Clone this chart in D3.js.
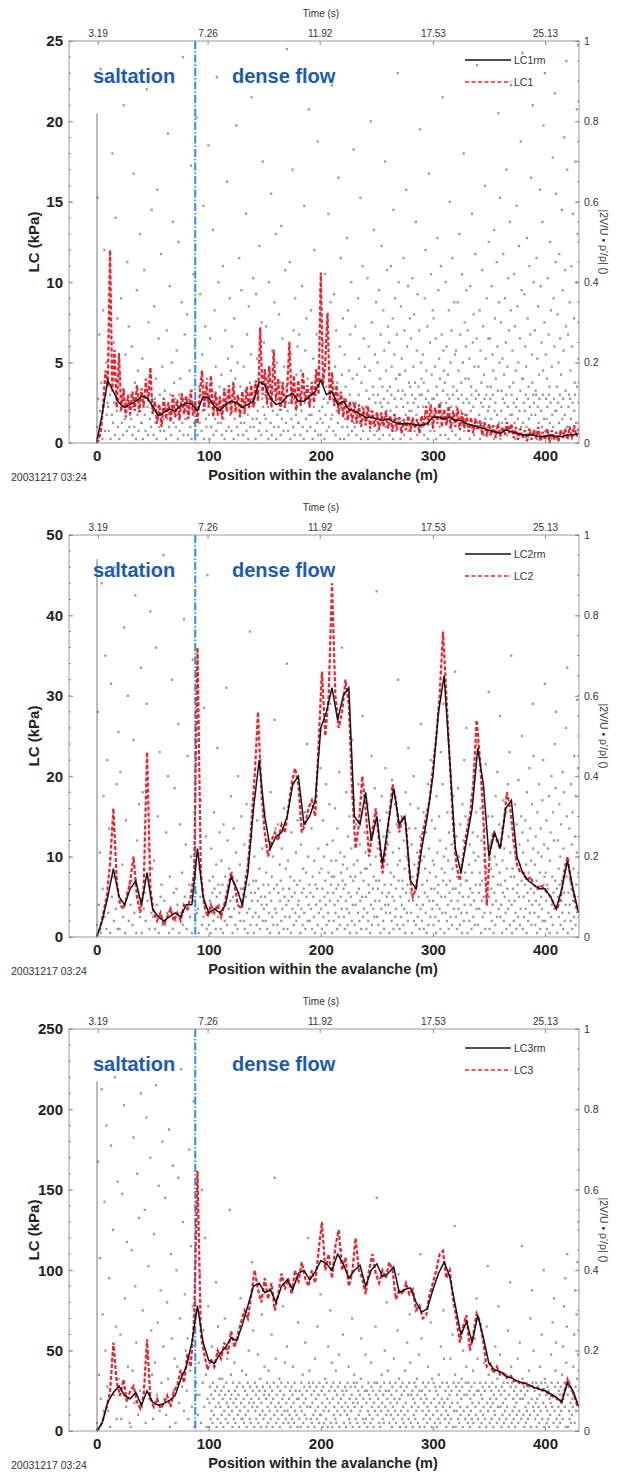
<!DOCTYPE html>
<html><head><meta charset="utf-8">
<script src="https://cdn.jsdelivr.net/npm/d3@7"></script>
<style>body{margin:0;background:#fff;} svg{display:block;font-family:"Liberation Sans",Arial,sans-serif;}</style>
</head><body><svg id="c" width="617" height="1474"></svg>
<script>
// ---------- data ----------
const xTickValues = [0, 100, 200, 300, 400];
const timeTickLabels = ["3.19", "7.26", "11.92", "17.53", "25.13"];
const timeTickPositions = [1, 99, 199, 300, 400];
const rightTicks = [0, 0.2, 0.4, 0.6, 0.8, 1];
const panelSeries = ["LC1", "LC2", "LC3"];
const yMaxes = [25, 50, 250];
const yTicks1 = [0, 5, 10, 15, 20, 25];
const yTicks2 = [0, 10, 20, 30, 40, 50];
const yTicks3 = [0, 50, 100, 150, 200, 250];
const transitionPos = 88;
const startLineTop = [0.82, 0.94, 0.87];
const redSteps = [2, 3, 3], blackStep = 5, scatterBin = 10;

const lc1 = [0,0.2,0.8,2.5,4.5,3.5,
12,3.2,5.8,2.2,5.6,2.0,3.4,1.6,3.0,1.8,
3.2,2.0,3.6,1.9,3.4,2.2,4.0,2.6,4.7,1.8,
2.6,1.2,2.4,1.0,2.8,1.5,2.5,1.3,3.0,1.6,
2.7,1.4,3.1,1.8,2.9,1.5,3.3,1.7,2.6,1.2,
3.0,4.5,2.0,3.8,2.2,4.2,1.6,3.2,1.7,2.9,
1.5,3.4,2.0,3.6,1.8,3.8,1.9,3.0,1.6,3.2,
1.8,3.5,2.1,3.6,2.2,3.9,2.6,7.2,3.0,4.6,
2.4,4.8,2.2,5.8,2.6,4.0,2.0,3.8,2.2,3.4,
6.3,2.4,4.2,2.0,3.9,2.3,4.4,2.6,3.6,2.2,
3.8,2.5,4.6,3.0,10.6,3.6,5.0,8.1,2.6,4.4,
2.3,3.6,1.8,3.2,1.6,2.8,1.4,2.6,1.3,2.5,
1.2,2.4,1.0,2.2,1.1,2.3,0.9,2.0,1.0,1.9,
0.8,1.9,1.0,2.0,0.9,1.7,0.7,1.8,0.8,1.6,
0.6,1.5,0.8,1.7,0.7,1.6,0.9,1.5,0.6,1.7,
1.0,2.3,1.1,2.4,0.9,2.2,1.2,2.5,1.0,2.1,
1.1,2.3,0.9,2.0,1.0,2.2,0.8,1.9,0.9,1.8,
0.7,1.6,0.6,1.5,0.8,1.4,0.5,1.3,0.4,1.2,
0.5,1.1,0.3,1.2,0.4,1.0,0.5,1.3,0.6,1.2,
0.3,1.0,0.2,0.9,0.3,0.8,0.1,0.9,0.2,0.8,
0.3,1.0,0.1,0.7,0.2,0.9,0.0,0.8,0.2,0.7,
0.1,0.8,0.3,0.9,0.2,1.0,0.3,1.1,0.4,0.9];
const lc1rm = [0,1.8,3.9,3.2,2.5,2.2,2.4,2.6,2.9,2.8,2.3,1.7,1.9,2.1,2.0,2.3,2.5,2.4,2.0,2.9,2.8,2.3,2.0,2.4,2.6,2.5,2.2,2.4,2.6,3.8,3.6,2.8,2.4,2.5,2.9,3.1,2.6,2.6,2.9,3.2,3.9,3.0,3.2,2.4,2.6,2.1,2.0,1.8,1.6,1.6,1.5,1.4,1.5,1.3,1.2,1.2,1.2,1.1,1.1,1.2,1.6,1.6,1.5,1.6,1.4,1.4,1.2,1.1,1.0,0.9,0.8,0.7,0.6,0.8,0.7,0.6,0.5,0.5,0.5,0.4,0.4,0.5,0.4,0.4,0.5,0.5,0.6];

const lc2 = [0,1,3,5,9,16,7,4,3.5,5,7,10,5,3,6,23,6,3,2,3,1.5,2.5,3.5,2,3,2,4,3.5,5,8,36,8,4,2.5,4,3,4,2.5,4,6,8,6.5,4,3.5,6,9,14,20,28,18,13,10,12,13,12,14,13,16,19,21,19,13,14,16,17,15,24,33,25,30,44,30,26,28,32,29,18,11,14,20,16,10,13,16,12,8,11,15,19,17,13,15,14,8,5,6,10,13,15,17,21,25,30,38,30,22,14,9,7,10,13,15,19,27,22,15,4,11,13,12,11,14,18,16,12,9,8,8,7,7.5,6.5,6,6.5,6,5.5,5,4,3.5,5,8,10,7,5,3];
const lc2rm = [0,2,5,8.5,5,4,6,7,4,8,3.5,2.5,2,2.5,3,2.5,4,4,11,5,3,3.5,3,4,7.5,6,4,8,16,22,15,11,12.5,13,15,19,20,14,15,17,26,28,31,27,30,31,15,14,18,12,15,9,14,18.5,14,15,7,6,11,15,20,28,32.5,22,11,8,12,16,23.5,19,10,13,11,16,17,10,8,7,6.5,6,6,5,3.5,6,9.5,6,3];

const lc3 = [0,2,8,15,24,55,30,22,32,18,25,28,18,14,22,57,20,15,20,14,17,22,15,25,28,38,30,48,40,70,162,60,48,38,45,40,50,45,55,48,62,52,60,68,75,70,85,100,88,80,95,82,92,75,85,98,88,95,85,100,92,105,95,90,100,92,112,130,100,110,95,115,125,100,108,90,98,120,100,95,85,100,110,98,92,100,95,105,100,82,88,85,92,85,88,75,78,70,72,85,92,100,110,112,95,100,82,70,55,65,72,50,60,73,68,55,40,42,36,40,35,36,33,35,31,32,29,30,28,29,27,27,25,26,24,22,21,20,18,24,32,27,22,15];
const lc3rm = [0,5,18,24,28,22,20,24,16,25,18,16,17,19,22,32,40,55,78,55,44,42,48,52,58,56,66,78,90,92,86,88,80,90,94,88,98,100,94,99,106,104,100,110,104,95,100,103,90,100,104,96,98,102,86,88,89,80,74,76,88,98,105,96,78,60,68,55,72,58,42,38,37,34,33,31,30,29,27,26,25,23,21,18,30,25,15];

// |2V/U * rho'/rho| samples in hundredths, one string per 10 m of position
const scatter1 = [
"04 61 11 02 27 08 93 15 06 01 33 09 48 03 12 20 07 10","09 03 40 12 01 19 07 72 05 25 10 02 56 14 08 31 04 11",
"01 17 08 36 05 11 02 84 13 06 22 10 03 45 09 29 04 07","12 06 24 02 09 67 04 15 11 01 38 07 18 03 10 52 08 05",
"05 21 01 10 43 07 03 14 88 09 02 30 12 06 17 04 58 11","08 02 34 11 05 16 01 63 09 26 04 12 03 47 07 19 10 06",
"03 13 09 01 28 06 77 10 04 39 12 02 20 08 55 05 15 11","10 04 23 07 01 50 12 03 16 09 35 05 96 02 11 27 06 08",
"06 32 02 11 08 18 04 69 01 13 10 42 05 24 03 09 81 07","02 09 14 05 37 12 03 22 08 59 01 10 29 06 04 16 11 74",
"07 01 26 10 04 15 12 53 02 08 33 06 19 03 91 11 05 40 09 14","11 05 17 02 09 44 06 13 01 28 10 03 65 08 21 04 12 36 07 18",
"03 24 08 12 01 31 06 16 10 79 04 20 02 11 46 07 14 05 38 09","09 02 19 05 13 11 57 03 27 07 01 34 12 15 04 22 86 10 06 41",
"04 14 10 01 37 06 21 08 12 03 49 05 17 02 30 11 70 09 25 07","12 06 29 03 16 09 01 40 11 18 05 62 02 23 08 13 04 35 10 52",
"01 20 07 11 04 32 10 15 02 54 06 26 12 03 19 09 43 05 14 98","08 03 15 10 45 01 22 06 13 68 04 28 11 02 36 07 17 09 24 05",
"05 27 12 02 18 08 39 04 14 01 59 10 23 06 31 03 16 11 83 07","10 04 33 07 13 01 21 09 48 03 16 12 27 05 75 02 19 08 38 06",
"02 16 09 05 25 11 01 42 07 14 03 30 10 57 04 20 12 35 06 89","07 11 03 37 10 19 02 28 08 15 05 66 12 24 01 46 09 17 04 31",
"11 01 22 06 14 09 51 04 33 02 18 12 27 07 40 03 16 10 73 05","04 29 10 02 17 07 36 12 21 05 61 01 15 09 44 03 26 08 19 06",
"09 13 06 41 01 24 11 18 03 80 08 30 05 14 12 53 02 22 10 35 07","03 20 12 07 38 01 16 10 27 05 49 09 14 02 33 11 23 06 70 04 18 08 43 13 29",
"10 05 25 02 14 08 44 12 19 04 31 01 58 07 22 11 36 03 16 09 27 06 92 13 40 17","06 17 01 34 11 21 04 13 09 46 02 28 12 18 07 63 05 24 10 39 03 15 08 31 14",
"01 26 08 12 41 05 19 10 32 03 15 11 55 07 23 02 37 09 14 04 28 12 78 06 20 16","12 04 22 09 15 02 36 07 48 11 18 05 29 01 13 10 67 06 25 03 42 08 17 11 33",
"05 31 11 03 19 08 26 01 14 12 51 06 38 09 21 04 16 02 44 10 27 07 86 13 23 18","08 15 02 40 10 24 05 12 17 01 33 11 60 04 20 09 28 03 46 12 14 06 35 07 22",
"02 23 09 13 06 35 11 18 04 52 01 27 08 15 12 42 05 20 10 72 03 30 07 16 24 38","11 06 28 03 16 10 21 01 39 08 14 12 57 04 25 09 32 02 19 06 47 11 13 26 94 05",
"04 19 12 07 33 01 23 10 15 05 43 09 29 02 17 11 64 06 21 12 36 03 14 08 26 50","09 02 26 11 14 06 39 04 22 12 18 01 53 08 31 10 16 03 45 07 24 13 82 05 35 20 61",
"01 30 08 13 05 21 11 47 03 17 10 36 06 25 12 68 02 19 09 41 04 28 14 55 07 33 89","12 07 23 03 15 10 42 05 29 01 18 09 59 11 34 06 20 02 49 08 26 13 75 04 38 16 97",
"05 16 10 02 37 08 24 12 19 04 51 01 31 11 14 06 44 09 27 03 66 07 22 15 84 12 40","10 03 28 07 13 12 46 01 21 09 34 05 17 11 63 02 39 08 25 04 55 12 18 79 06 30 92",
"03 22 11 06 16 09 41 02 27 12 14 05 50 10 33 01 19 07 71 04 36 11 24 87 08 45 62","08 14 01 32 10 20 05 47 12 26 03 17 09 58 06 38 11 23 02 76 07 43 13 29 95 04 68",
"02 27 09 12 04 35 11 18 06 44 01 24 10 57 03 31 08 15 12 70 05 40 83 14 52 99 21"];
const scatter2 = [
"03 56 08 21 01 88 12 35 05 70 02 44","06 27 01 63 10 15 04 92 07 38 02 51","02 41 09 18 05 77 01 29 11 60 04 13",
"08 14 03 49 06 85 01 24 10 33 05 67","01 36 07 11 04 58 09 22 02 81 06 17","05 19 02 72 08 30 01 46 10 13 03 95",
"09 03 26 06 40 01 15 07 64 02 11 37","04 12 08 53 01 28 06 16 03 79 10 23","02 45 07 13 05 20 01 69 09 31 04 11 06",
"07 01 17 10 34 03 12 05 57 08 25 02 90 06","03 14 09 01 22 06 11 15 04 31 12 07 02 18 10 47 05 13 08 26",
"11 02 19 06 13 01 28 08 04 15 10 62 03 24 12 07 17 05 09 35","05 16 01 10 27 07 13 03 21 09 14 02 40 11 06 18 04 12 30 08",
"08 12 04 23 02 15 10 33 06 01 19 13 07 76 03 11 25 09 05 14","01 20 11 06 14 03 29 09 12 05 17 02 44 10 08 22 04 13 07 31",
"10 04 16 08 02 24 13 06 11 01 36 09 15 05 20 03 12 54 07 27","06 13 03 28 11 01 18 09 14 04 22 07 12 02 32 10 05 17 08 68",
"02 19 09 12 05 15 01 26 10 07 38 03 14 11 06 21 04 13 29 08","09 05 14 01 23 07 11 03 17 12 06 31 02 16 10 48 04 20 08 13",
"04 11 07 27 02 15 10 05 19 01 13 08 35 12 03 22 06 16 09 42","07 17 02 12 29 05 20 10 01 14 08 38 03 23 11 06 16 04 33 09 58 13 19 15",
"01 24 11 04 15 08 32 06 19 12 02 27 09 13 05 41 03 21 10 16 07 72 14 18","12 05 20 02 13 09 36 07 17 03 25 11 06 30 01 15 10 22 04 49 08 14 18 34",
"03 15 08 28 01 11 19 06 38 12 04 23 09 16 02 31 10 55 05 14 07 26 17 21","10 02 17 06 33 04 13 11 24 01 18 08 45 03 27 12 07 15 05 37 09 20 14 86",
"05 22 12 03 14 09 29 01 19 07 35 11 16 04 25 02 13 08 42 06 31 10 18 23","08 11 01 26 06 16 13 04 39 10 21 02 15 09 33 05 12 07 28 03 18 64 14 22",
"02 19 10 05 30 08 14 12 03 24 07 17 01 36 11 20 06 13 04 47 09 27 16 33","11 06 23 01 15 09 40 04 18 12 27 03 13 08 21 05 32 10 16 02 25 07 53 19",
"04 13 08 31 02 20 11 17 06 26 01 14 10 38 03 22 09 16 05 44 12 29 07 19","09 03 18 12 27 05 15 01 35 08 21 11 13 04 30 07 24 02 46 10 17 06 38 14 58 20",
"01 16 10 06 22 13 04 31 08 19 02 26 11 14 05 40 09 23 03 17 12 35 07 28 21 66","12 05 25 02 15 09 37 07 20 11 03 28 13 06 18 01 33 10 24 04 44 08 16 30 14 52",
"06 14 01 29 10 18 04 23 12 08 34 02 16 11 26 05 21 09 39 03 19 13 31 07 48 25","03 20 11 07 16 13 32 01 24 09 14 05 37 10 19 06 27 02 43 12 17 08 22 15 30 61",
"10 02 23 06 17 12 04 30 08 15 01 26 11 20 03 35 09 18 05 41 13 24 07 28 16 55","05 13 08 27 01 19 11 34 04 22 10 14 06 31 02 17 12 38 07 25 09 46 03 21 15 70",
"08 01 17 12 24 04 15 09 33 06 20 02 28 11 13 05 39 10 23 03 18 07 30 14 50 26","02 21 10 05 15 13 29 07 18 01 36 11 24 04 16 09 42 06 27 12 19 03 33 08 58 22 45",
"11 06 18 03 25 09 14 01 31 12 21 05 38 08 16 02 27 10 20 07 34 04 44 13 23 15 63","04 16 09 29 02 13 12 22 06 35 01 19 10 26 05 40 08 15 03 31 11 24 07 48 14 37 56",
"07 12 01 24 10 17 05 33 13 20 03 28 09 14 06 41 02 22 11 36 04 18 08 52 15 30 67","01 19 11 06 27 08 14 04 38 12 23 02 31 09 17 05 45 10 25 03 35 13 21 59 07 42 16"];
const scatter3 = [
"02 67 14 43 08 85 29 05 57 20 76 11","05 38 01 71 18 50 09 88 26 03 62 13","09 24 03 59 12 81 33 06 47 16 92 02",
"01 45 15 73 07 36 22 64 04 53 10 84","06 30 11 55 02 78 19 41 08 68 25 14","03 49 17 86 09 27 61 05 35 12 72 21",
"08 58 04 32 13 75 01 44 23 66 10 18","02 40 16 63 07 28 90 11 52 05 34 20","10 23 03 70 15 46 06 31 82 01 56 12 09",
"04 17 09 39 02 60 12 25 06 48 14 01 08 31","01 07 11 03 09 05 21 02 12 08 04 16 10 06 37 01 11 03 26 07 09 13",
"06 02 10 04 13 08 01 11 05 28 09 03 12 07 18 02 06 10 04 55 08 14","09 05 01 12 07 03 17 10 02 08 06 11 23 04 09 01 12 05 33 07 03 15",
"03 11 08 02 06 10 04 14 01 09 12 05 20 07 03 11 02 08 42 06 10 25","07 01 12 05 09 03 11 06 19 02 08 10 04 13 01 07 29 05 11 03 09 16",
"10 04 08 01 12 06 02 15 09 05 11 03 07 24 10 01 08 12 04 63 06 18","02 09 05 11 03 07 13 01 10 06 12 04 08 31 02 09 05 17 11 03 07 21",
"05 12 02 08 04 10 01 06 11 03 09 16 07 02 12 05 10 38 04 08 01 27","08 03 10 06 01 12 05 09 14 02 07 11 04 22 08 03 10 06 01 48 12 15",
"11 06 03 09 02 07 12 04 10 01 18 05 08 11 03 26 06 09 02 12 04 34","04 10 07 01 11 05 02 09 13 06 03 12 08 01 21 05 10 07 30 02 11 17",
"01 08 12 04 06 10 03 15 02 09 05 11 07 19 01 12 04 08 45 06 10 24","09 02 05 11 07 01 10 04 12 06 16 03 08 02 11 05 09 28 01 07 12 14",
"06 11 03 08 12 02 07 10 04 01 09 05 13 23 06 11 03 08 36 02 10 19","03 07 10 01 05 12 09 04 08 02 17 11 06 03 10 01 07 12 05 26 09 58",
"12 04 08 06 02 10 01 11 05 14 07 03 09 02 12 20 06 10 04 32 08 15","05 10 02 12 07 04 09 01 11 06 03 18 08 05 12 02 10 07 25 04 39 13",
"08 01 11 05 09 03 12 06 02 10 04 15 07 01 11 22 05 09 03 12 29 17","02 09 06 10 01 08 04 12 07 03 11 05 13 09 02 06 19 10 01 44 08 23",
"10 05 12 03 07 01 09 11 04 08 02 06 16 12 05 10 03 27 07 01 13 35","04 12 08 02 11 06 10 01 05 09 03 14 07 11 02 21 04 08 12 06 30 18",
"07 03 10 05 01 12 08 04 11 02 09 06 18 03 10 07 24 01 12 05 51 14","01 11 05 09 07 03 12 02 10 06 04 08 13 11 01 20 05 09 28 03 12 16",
"09 06 02 12 04 10 01 08 05 11 03 07 15 02 09 12 23 06 04 33 10 18","03 10 07 01 12 05 09 02 08 11 04 06 17 10 03 12 01 26 07 41 05 14",
"11 02 08 06 10 03 12 07 01 09 05 04 21 11 08 02 13 06 31 10 03 19","06 09 01 11 04 07 12 02 10 05 08 03 14 06 12 25 01 09 04 37 11 16",
"02 12 05 08 03 10 06 01 11 07 04 09 18 02 12 05 22 08 10 03 46 13","08 04 11 01 09 06 02 12 05 10 03 07 15 11 04 28 01 08 35 12 06 20",
"05 10 03 07 12 01 08 04 11 06 02 09 16 05 12 24 03 10 07 40 01 13","12 06 09 02 05 11 03 10 01 08 04 07 19 12 06 27 09 02 33 05 11 15 22",
"03 08 01 12 06 10 04 09 02 11 05 07 14 03 21 08 31 12 06 38 01 17 26 44","09 01 11 05 03 12 07 02 10 04 08 06 16 09 24 02 35 11 05 29 13 42 19 52"];

const redSeries = [lc1, lc2, lc3];
const blackSeries = [lc1rm, lc2rm, lc3rm];
const scatterSeries = [scatter1, scatter2, scatter3];
const yTickSets = [yTicks1, yTicks2, yTicks3];

// ---------- layout ----------
const svg = d3.select("#c");
const panelTop = [41, 535, 1029], plotH = 402;
const X0 = 69, X1 = 579;
const x = d3.scaleLinear().domain([-24.6, 430.3]).range([X0, X1]);
const FONT = '"Liberation Sans", Arial, sans-serif';

panelTop.forEach((top, i) => {
  const bottom = top + plotH;
  const y = d3.scaleLinear().domain([0, yMaxes[i]]).range([bottom, top]);
  const yR = d3.scaleLinear().domain([0, 1]).range([bottom, top]);
  const g = svg.append("g");
  const clipId = "clip" + i;
  svg.append("defs").append("clipPath").attr("id", clipId)
    .append("rect").attr("x", X0).attr("y", top).attr("width", X1 - X0).attr("height", plotH + 1);
  const plot = g.append("g").attr("clip-path", `url(#${clipId})`);

  // scatter samples
  const pts = [];
  scatterSeries[i].forEach((s, b) => {
    const vals = s.split(" ");
    vals.forEach((v, j) => pts.push({p: b * scatterBin + (j + 0.5) * scatterBin / vals.length, v: +v / 100}));
  });
  plot.append("g").selectAll("rect").data(pts).join("rect")
    .attr("x", d => x(d.p) - 1.1).attr("y", d => yR(d.v) - 1.2)
    .attr("width", 2.2).attr("height", 2.4).attr("fill", "#9a9a9a");

  // start line
  plot.append("line").attr("x1", x(0.4)).attr("x2", x(0.4))
    .attr("y1", yR(startLineTop[i])).attr("y2", bottom)
    .attr("stroke", "#666").attr("stroke-width", 0.9);

  // transition line
  plot.append("line").attr("x1", x(transitionPos)).attr("x2", x(transitionPos))
    .attr("y1", top).attr("y2", bottom)
    .attr("stroke", "#2f8fe6").attr("stroke-width", 2).attr("stroke-dasharray", "8,2,1.5,2");

  // red raw line
  const red = redSeries[i].map((v, k) => ({p: k * redSteps[i], v}));
  plot.append("path").datum(red)
    .attr("d", d3.line().x(d => x(d.p)).y(d => y(d.v)))
    .attr("fill", "none").attr("stroke", "#ea2330").attr("stroke-width", 2.2)
    .attr("stroke-dasharray", "4,2");
  // black running mean
  const blk = blackSeries[i].map((v, k) => ({p: k * blackStep, v}));
  plot.append("path").datum(blk)
    .attr("d", d3.line().x(d => x(d.p)).y(d => y(d.v)))
    .attr("fill", "none").attr("stroke", "#151515").attr("stroke-width", 1.5);

  // frame
  g.append("rect").attr("x", X0).attr("y", top).attr("width", X1 - X0).attr("height", plotH)
    .attr("fill", "none").attr("stroke", "#9a9a9a").attr("stroke-width", 1);

  // minor ticks
  const maj = yTickSets[i][1];
  const minorL = d3.range(0, yMaxes[i] + 1e-9, maj / 5);
  g.append("g").selectAll("line").data(minorL).join("line")
    .attr("x1", X0).attr("x2", X0 + 2).attr("y1", d => y(d)).attr("y2", d => y(d))
    .attr("stroke", "#888");
  const minorR = d3.range(0, 1.0001, 0.05);
  g.append("g").selectAll("line").data(minorR).join("line")
    .attr("x1", X1 - 2).attr("x2", X1).attr("y1", d => yR(d)).attr("y2", d => yR(d))
    .attr("stroke", "#888");

  // axes
  const axL = g.append("g").attr("transform", `translate(${X0},0)`)
    .call(d3.axisLeft(y).tickValues(yTickSets[i]).tickSize(-4).tickPadding(6));
  axL.selectAll("text").attr("font-size", 15).attr("font-weight", "bold").attr("fill", "#222").attr("font-family", FONT);
  const axR = g.append("g").attr("transform", `translate(${X1},0)`)
    .call(d3.axisRight(yR).tickValues(rightTicks).tickSize(-4).tickPadding(5)
      .tickFormat(d => (d === 0 || d === 1) ? String(d) : d.toFixed(1)));
  axR.selectAll("text").attr("font-size", 10.5).attr("fill", "#333").attr("font-family", FONT);
  const axB = g.append("g").attr("transform", `translate(0,${bottom})`)
    .call(d3.axisBottom(x).tickValues(xTickValues).tickSize(-4).tickPadding(7));
  axB.selectAll("text").attr("font-size", 15).attr("font-weight", "bold").attr("fill", "#222").attr("font-family", FONT);
  const axT = g.append("g").attr("transform", `translate(0,${top})`)
    .call(d3.axisTop(x).tickValues(timeTickPositions).tickSize(-4).tickPadding(4)
      .tickFormat((d, k) => timeTickLabels[k]));
  axT.selectAll("text").attr("font-size", 10).attr("fill", "#333").attr("font-family", FONT);
  [axL, axR, axB, axT].forEach(a => {
    a.select(".domain").remove();
    a.selectAll(".tick line").attr("stroke", "#888");
  });

  // titles
  g.append("text").attr("x", 321).attr("y", top - 28).attr("dy", "0.35em")
    .attr("text-anchor", "middle").attr("font-size", 10).attr("fill", "#333").text("Time (s)");
  g.append("text").attr("x", 323).attr("y", bottom + 32).attr("dy", "0.35em")
    .attr("text-anchor", "middle").attr("font-size", 14.5).attr("font-weight", "bold").attr("fill", "#222")
    .text("Position within the avalanche (m)");
  g.append("text").attr("x", 11).attr("y", bottom + 34).attr("dy", "0.35em")
    .attr("font-size", 10.5).attr("fill", "#333").text("20031217 03:24");
  g.append("text").attr("transform", `translate(34,${top + 201}) rotate(-90)`).attr("dy", "0.35em")
    .attr("text-anchor", "middle").attr("font-size", 15).attr("font-weight", "bold").attr("fill", "#222")
    .text("LC (kPa)");
  g.append("text").attr("transform", `translate(604,${top + 201}) rotate(90)`).attr("dy", "0.35em")
    .attr("text-anchor", "middle").attr("font-size", 10.5).attr("fill", "#333")
    .text("|2V/U \u2022 \u03C1'/\u03C1| ()");

  // region labels
  g.append("text").attr("x", 93).attr("y", top + 35).attr("dy", "0.35em")
    .attr("font-size", 20).attr("font-weight", "bold").attr("fill", "#1d5bb0").text("saltation");
  g.append("text").attr("x", 232).attr("y", top + 35).attr("dy", "0.35em")
    .attr("font-size", 20).attr("font-weight", "bold").attr("fill", "#1d5bb0").text("dense flow");

  // legend
  const lg = g.append("g");
  lg.append("line").attr("x1", 465).attr("x2", 511).attr("y1", top + 19).attr("y2", top + 19)
    .attr("stroke", "#151515").attr("stroke-width", 1.5);
  lg.append("text").attr("x", 514).attr("y", top + 19).attr("dy", "0.35em")
    .attr("font-size", 10.5).attr("fill", "#333").text(panelSeries[i] + "rm");
  lg.append("line").attr("x1", 465).attr("x2", 511).attr("y1", top + 41).attr("y2", top + 41)
    .attr("stroke", "#ea2330").attr("stroke-width", 1.5).attr("stroke-dasharray", "4,2.5");
  lg.append("text").attr("x", 514).attr("y", top + 41).attr("dy", "0.35em")
    .attr("font-size", 10.5).attr("fill", "#333").text(panelSeries[i]);
});
</script></body></html>
